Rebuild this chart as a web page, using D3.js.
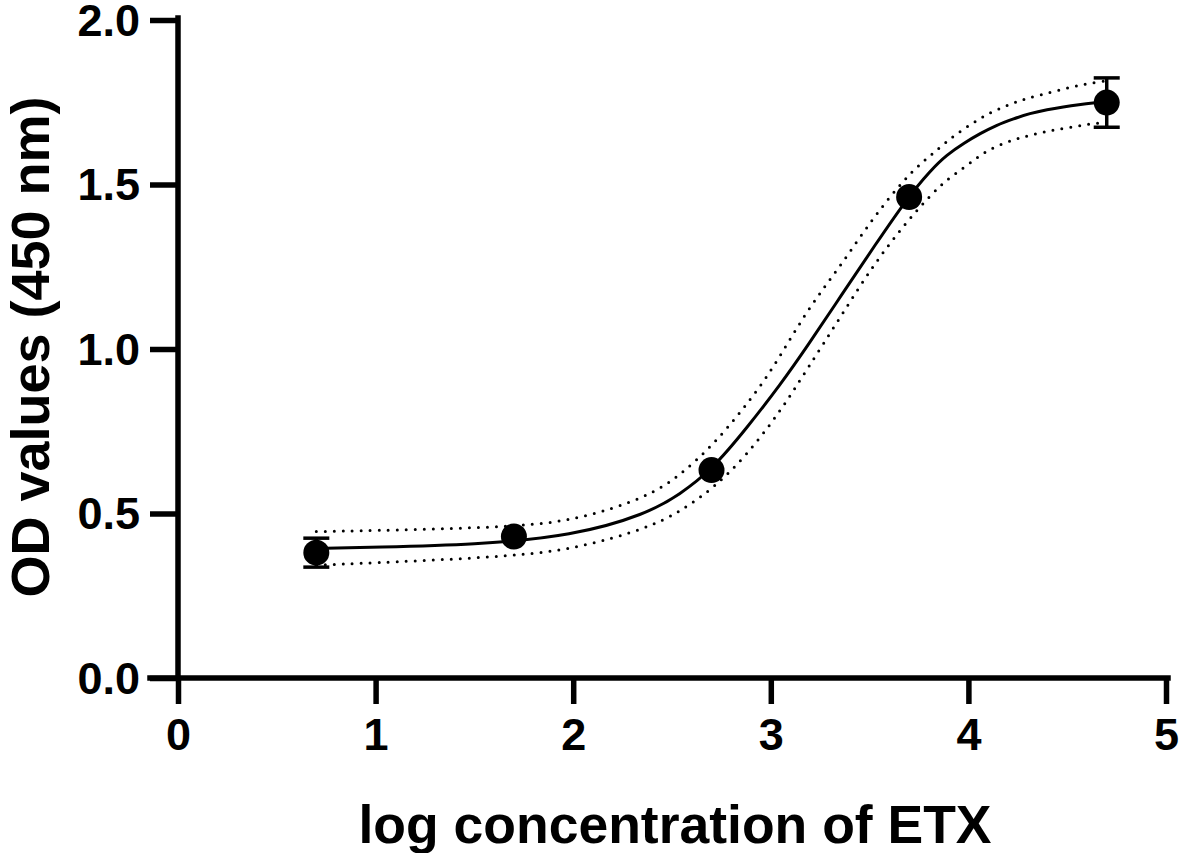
<!DOCTYPE html>
<html>
<head>
<meta charset="utf-8">
<script src="https://cdn.jsdelivr.net/npm/d3@7"></script>
<style>
  html, body { margin: 0; padding: 0; background: #fff; }
  svg { display: block; }
  text { font-family: "Liberation Sans", Arial, sans-serif; font-weight: bold; fill: #000; }
</style>
</head>
<body>
<svg id="chart" width="1181" height="853"></svg>
<script>
// ---- data ----
const pointX = [0.70, 1.70, 2.70, 3.70, 4.70];
const pointY = [0.381, 0.430, 0.632, 1.462, 1.749];
const pointErr = [0.044, 0.010, 0.012, 0.012, 0.075];

const fitX = [0.70, 1.00, 1.50, 2.00, 2.37, 2.54, 2.70, 2.88, 3.05, 3.18, 3.36, 3.53, 3.69, 3.81, 3.89, 3.98, 4.06, 4.14, 4.23, 4.31, 4.40, 4.48, 4.56, 4.63, 4.70];
const fitY = [0.394, 0.398, 0.405, 0.432, 0.498, 0.558, 0.632, 0.761, 0.893, 1.004, 1.166, 1.318, 1.458, 1.544, 1.590, 1.627, 1.655, 1.680, 1.700, 1.716, 1.728, 1.736, 1.743, 1.748, 1.751];

const upperX = [0.70, 1.70, 2.03, 2.37, 2.54, 2.71, 2.86, 3.01, 3.18, 3.35, 3.52, 3.68, 3.76, 3.85, 3.93, 4.02, 4.10, 4.19, 4.27, 4.36, 4.46, 4.56, 4.63, 4.70];
const upperY = [0.445, 0.457, 0.482, 0.548, 0.615, 0.710, 0.817, 0.938, 1.116, 1.250, 1.401, 1.519, 1.564, 1.610, 1.650, 1.686, 1.716, 1.739, 1.757, 1.772, 1.787, 1.802, 1.809, 1.815];

const lowerX = [0.70, 1.70, 2.03, 2.37, 2.54, 2.71, 2.88, 3.05, 3.18, 3.35, 3.52, 3.69, 3.81, 3.89, 3.98, 4.06, 4.14, 4.23, 4.31, 4.40, 4.48, 4.58, 4.65, 4.70];
const lowerY = [0.343, 0.368, 0.396, 0.454, 0.505, 0.577, 0.678, 0.812, 0.935, 1.095, 1.257, 1.389, 1.468, 1.515, 1.552, 1.590, 1.617, 1.636, 1.650, 1.662, 1.670, 1.681, 1.686, 1.688];

const xTicks = [0, 1, 2, 3, 4, 5];
const yTicks = [0.0, 0.5, 1.0, 1.5, 2.0];
const xTitle = "log concentration of ETX";
const yTitle = "OD values (450 nm)";

// ---- layout ----
const svg = d3.select("#chart");
const x = d3.scaleLinear().domain([0, 5]).range([178, 1166]);
const y = d3.scaleLinear().domain([0, 2]).range([678, 20]);
const axisW = 5.5;

// axes
const xAxis = d3.axisBottom(x).tickValues(xTicks).tickFormat(d3.format("d"))
  .tickSizeInner(26).tickSizeOuter(0).tickPadding(14);
const yAxis = d3.axisLeft(y).tickValues(yTicks).tickFormat(d3.format(".1f"))
  .tickSizeInner(28).tickSizeOuter(0).tickPadding(10);

const gx = svg.append("g").attr("transform", `translate(0,${y(0)})`).call(xAxis);
const gy = svg.append("g").attr("transform", `translate(${x(0)},0)`).call(yAxis);

[gx, gy].forEach(g => {
  g.select(".domain").attr("stroke", "#000").attr("stroke-width", axisW).attr("stroke-linecap", "square");
  g.selectAll(".tick line").attr("stroke", "#000").attr("stroke-width", axisW);
  g.selectAll(".tick text").attr("fill", "#000")
    .style("font-family", "'Liberation Sans', Arial, sans-serif")
    .style("font-weight", "bold").style("font-size", "45px");
});
gy.selectAll(".tick text").attr("dy", "0.34em");
// extend x-axis line left to meet the 0.0 tick
gx.select(".domain").attr("d", `M${x(0) - 28},0H${x(5) + 2}`);
gy.select(".domain").attr("d", `M0,${y(2) - 2}V${y(0)}`);

// titles
svg.append("text")
  .attr("x", 675).attr("y", 843)
  .attr("text-anchor", "middle")
  .style("font-size", "53.5px")
  .text(xTitle);

svg.append("text")
  .attr("transform", `translate(49,${347}) rotate(-90)`)
  .attr("text-anchor", "middle")
  .style("font-size", "54px")
  .text(yTitle);

// curves
const line = d3.line().x(d => x(d[0])).y(d => y(d[1])).curve(d3.curveBasis);
const fitPts = fitX.map((v, i) => [v, fitY[i]]);
const upPts = upperX.map((v, i) => [v, upperY[i]]);
const loPts = lowerX.map((v, i) => [v, lowerY[i]]);

[upPts, loPts].forEach(pts => {
  svg.append("path").attr("d", line(pts))
    .attr("fill", "none").attr("stroke", "#000")
    .attr("stroke-width", 3).attr("stroke-linecap", "round")
    .attr("stroke-dasharray", "0 9");
});
svg.append("path").attr("d", line(fitPts))
  .attr("fill", "none").attr("stroke", "#000").attr("stroke-width", 3);

// error bars & points
const r = 13;
const pts = pointX.map((v, i) => ({x: v, y: pointY[i], e: pointErr[i]}));
const capHalf = 13;
pts.forEach(p => {
  const top = y(p.y + p.e), bot = y(p.y - p.e);
  if (y(p.y) - top > r) {
    const g = svg.append("g").attr("stroke", "#000").attr("stroke-width", 3.5);
    g.append("line").attr("x1", x(p.x)).attr("x2", x(p.x)).attr("y1", top).attr("y2", bot);
    g.append("line").attr("x1", x(p.x) - capHalf).attr("x2", x(p.x) + capHalf).attr("y1", top).attr("y2", top);
    g.append("line").attr("x1", x(p.x) - capHalf).attr("x2", x(p.x) + capHalf).attr("y1", bot).attr("y2", bot);
  }
});
svg.selectAll("circle.pt").data(pts).enter().append("circle")
  .attr("class", "pt")
  .attr("cx", d => x(d.x)).attr("cy", d => y(d.y)).attr("r", r)
  .attr("fill", "#000");
</script>
</body>
</html>
